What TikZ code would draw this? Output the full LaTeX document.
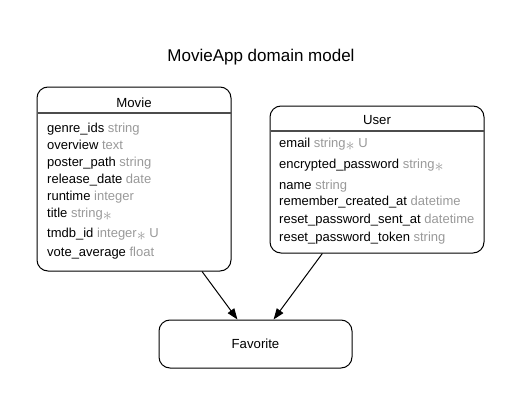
\documentclass[tikz,border=0pt]{standalone}
\usepackage{fontspec}
\setmainfont{Liberation Sans}
\usetikzlibrary{arrows.meta}
\definecolor{typegray}{HTML}{999999}
\newcommand{\typ}[1]{\textcolor{typegray}{#1}}
\newcommand{\req}{\textcolor{typegray}{\raisebox{-3pt}{\scalebox{1.5}{$\ast$}}}}
\begin{document}
\begin{tikzpicture}[x=1pt,y=-1pt,
  entity/.style={draw, rounded corners=11pt, line width=1pt, inner sep=0pt},
  sepline/.style={draw=black!70, line width=1.4pt},
  row/.style={anchor=base west, inner sep=0pt, font=\fontsize{13}{14}\selectfont},
  head/.style={anchor=base, inner sep=0pt, font=\fontsize{13.2}{15}\selectfont},
  rel/.style={draw, line width=1pt, -{Triangle[length=11pt,width=8pt]}}]
\useasboundingbox (0,0) rectangle (523,407);
\node[anchor=base, inner sep=0pt, font=\fontsize{17}{20}\selectfont] (title) at (261,61) {MovieApp domain model};
% Movie
\node[entity, minimum width=194pt, minimum height=184pt] (movie) at (134,179) {};
\draw[sepline] (37.5,113) -- (230.5,113);
\node[head] (mh) at (134,107) {Movie};
\node[row] (m1) at (47,132) {genre\_ids \typ{string}};
\node[row] (m2) at (47,149) {overview \typ{text}};
\node[row] (m3) at (47,166) {poster\_path \typ{string}};
\node[row] (m4) at (47,183) {release\_date \typ{date}};
\node[row] (m5) at (47,200) {runtime \typ{integer}};
\node[row] (m6) at (47,217) {title \typ{string}\req};
\node[row] (m7) at (47,237) {tmdb\_id \typ{integer}\req\ \typ{U}};
\node[row] (m8) at (47,256) {vote\_average \typ{float}};
% User
\node[entity, minimum width=214pt, minimum height=147pt] (user) at (377,179.5) {};
\draw[sepline] (270.5,131) -- (483.5,131);
\node[head] (uh) at (377,124) {User};
\node[row] (u1) at (279,147) {email \typ{string}\req\ \typ{U}};
\node[row] (u2) at (279,168) {encrypted\_password \typ{string}\req};
\node[row] (u3) at (279,189) {name \typ{string}};
\node[row] (u4) at (279,205) {remember\_created\_at \typ{datetime}};
\node[row] (u5) at (279,223) {reset\_password\_sent\_at \typ{datetime}};
\node[row] (u6) at (279,241) {reset\_password\_token \typ{string}};
% Favorite
\node[entity, minimum width=193pt, minimum height=48pt, font=\fontsize{13.2}{15}\selectfont] (fav) at (255.5,344) {Favorite};
\draw[rel] (movie) -- (fav);
\draw[rel] (user) -- (fav);
\end{tikzpicture}
\end{document}
